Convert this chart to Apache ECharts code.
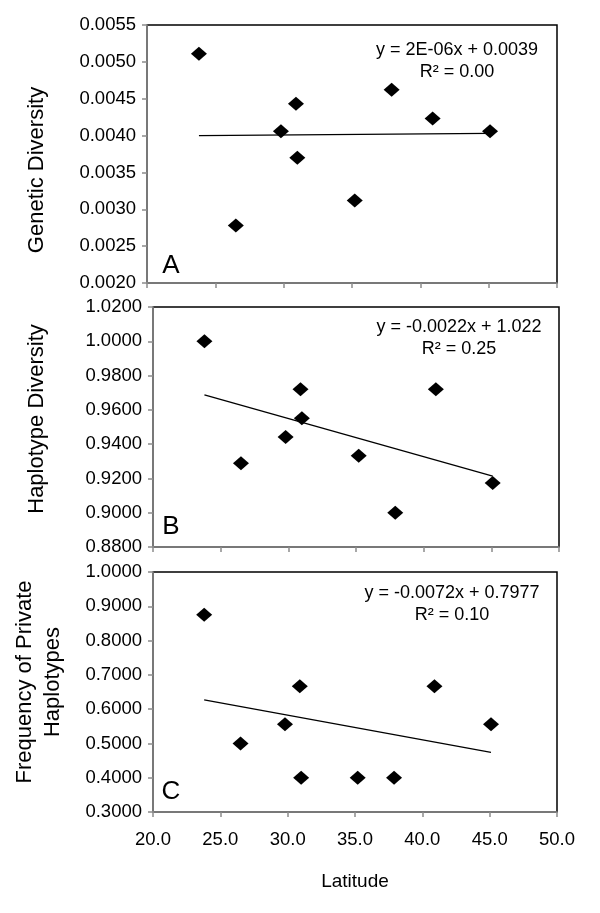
<!DOCTYPE html>
<html>
<head>
<meta charset="utf-8">
<script src="https://cdn.jsdelivr.net/npm/echarts@6/dist/echarts.min.js"></script>
<style>
html,body{margin:0;padding:0;background:#fff;}
#chart{width:600px;height:913px;}
</style>
</head>
<body>
<div id="chart"></div>
<script>
// Data
var latitude = [23.8, 26.5, 29.8, 30.9, 31.0, 35.2, 37.9, 40.9, 45.1];
var geneticDiversity = [0.00511, 0.00278, 0.00406, 0.00443, 0.00370, 0.00312, 0.00462, 0.00423, 0.00406];
var haplotypeDiversity = [1.0000, 0.9289, 0.9442, 0.9720, 0.9551, 0.9332, 0.9000, 0.9720, 0.9173];
var privateFreq = [0.8750, 0.5000, 0.5556, 0.6667, 0.4000, 0.4000, 0.4000, 0.6667, 0.5556];
var trendX = [23.8, 45.1];
var trendA = [0.00400, 0.00403];
var trendB = [0.9687, 0.9213];
var trendC = [0.6271, 0.4740];
var xTicks = [20, 25, 30, 35, 40, 45, 50];
var eqA = ['y = 2E-06x + 0.0039', 'R² = 0.00'];
var eqB = ['y = -0.0022x + 1.022', 'R² = 0.25'];
var eqC = ['y = -0.0072x + 0.7977', 'R² = 0.10'];
var yTitles = ['Genetic Diversity', 'Haplotype Diversity', 'Frequency of Private\nHaplotypes'];
var panelLetters = ['A', 'B', 'C'];

function pairs(xs, ys){ return xs.map(function(x,i){ return [x, ys[i]]; }); }

var FONT = '"Liberation Sans", Arial, sans-serif';
var grids = [
  {left:147, top:25, width:410, height:258},
  {left:153, top:307, width:406, height:240},
  {left:153, top:572, width:404, height:240}
];
grids.forEach(function(g){ g.show = true; g.borderColor = '#000'; g.borderWidth = 1.5; g.backgroundColor = '#fff'; });

function xAx(i, showLabels){
  return {
    type:'value', gridIndex:i, min:xTicks[0], max:xTicks[xTicks.length-1], interval:5,
    axisLine:{show:true, onZero:false, lineStyle:{color:'#8c8c8c', width:1.5}},
    axisTick:{show:true, length:5, lineStyle:{color:'#8c8c8c', width:1.5}},
    axisLabel:{show:showLabels, color:'#000', fontSize:18.5, fontFamily:FONT, margin:18,
      formatter:function(v){ return v.toFixed(1); }},
    splitLine:{show:false},
    name: showLabels ? 'Latitude' : '', nameLocation:'middle', nameGap:60,
    nameTextStyle:{color:'#000', fontSize:19, fontFamily:FONT}
  };
}
function yAx(i, min, max, interval){
  return {
    type:'value', gridIndex:i, min:min, max:max, interval:interval,
    axisLine:{show:true, onZero:false, lineStyle:{color:'#8c8c8c', width:1.5}},
    axisTick:{show:true, length:5, lineStyle:{color:'#8c8c8c', width:1.5}},
    axisLabel:{color:'#000', fontSize:18.5, fontFamily:FONT, margin:11,
      formatter:function(v){ return v.toFixed(4); }},
    splitLine:{show:false}
  };
}

function scatter(i, ys){
  return {type:'scatter', xAxisIndex:i, yAxisIndex:i, data:pairs(latitude, ys),
    symbol:'diamond', symbolSize:[16,14], itemStyle:{color:'#000', opacity:1}, silent:true, z:3};
}
function trend(i, ys){
  return {type:'line', xAxisIndex:i, yAxisIndex:i, data:pairs(trendX, ys),
    symbol:'none', lineStyle:{color:'#000', width:1.3}, silent:true, z:2};
}

var graphics = [];
// y titles
var titlePos = [[37,170],[37,419],[39,682]];
yTitles.forEach(function(t,i){
  graphics.push({type:'text', x:titlePos[i][0], y:titlePos[i][1], rotation:Math.PI/2,
    style:{text:t, fill:'#000', font:'22px '+FONT, textAlign:'center', textVerticalAlign:'middle', lineHeight:28}});
});
// panel letters
var letterPos = [[171,266],[171,527],[171,792]];
panelLetters.forEach(function(t,i){
  graphics.push({type:'text', x:letterPos[i][0], y:letterPos[i][1],
    style:{text:t, fill:'#000', font:'26px '+FONT, textAlign:'center', textVerticalAlign:'middle'}});
});
// equations
var eqs = [eqA, eqB, eqC];
var eqPos = [[457,50],[459,327],[452,593]];
eqs.forEach(function(e,i){
  graphics.push({type:'text', x:eqPos[i][0], y:eqPos[i][1],
    style:{text:e[0], fill:'#000', font:'18px '+FONT, textAlign:'center', textVerticalAlign:'middle'}});
  graphics.push({type:'text', x:eqPos[i][0], y:eqPos[i][1]+22,
    style:{text:e[1], fill:'#000', font:'18px '+FONT, textAlign:'center', textVerticalAlign:'middle'}});
});

var chart = echarts.init(document.getElementById('chart'), null, {renderer:'canvas'});
chart.setOption({
  animation:false,
  backgroundColor:'#fff',
  grid:grids,
  xAxis:[xAx(0,false), xAx(1,false), xAx(2,true)],
  yAxis:[yAx(0,0.002,0.0055,0.0005), yAx(1,0.88,1.02,0.02), yAx(2,0.3,1.0,0.1)],
  series:[scatter(0,geneticDiversity), trend(0,trendA),
          scatter(1,haplotypeDiversity), trend(1,trendB),
          scatter(2,privateFreq), trend(2,trendC)],
  graphic:graphics
});
</script>
</body>
</html>
